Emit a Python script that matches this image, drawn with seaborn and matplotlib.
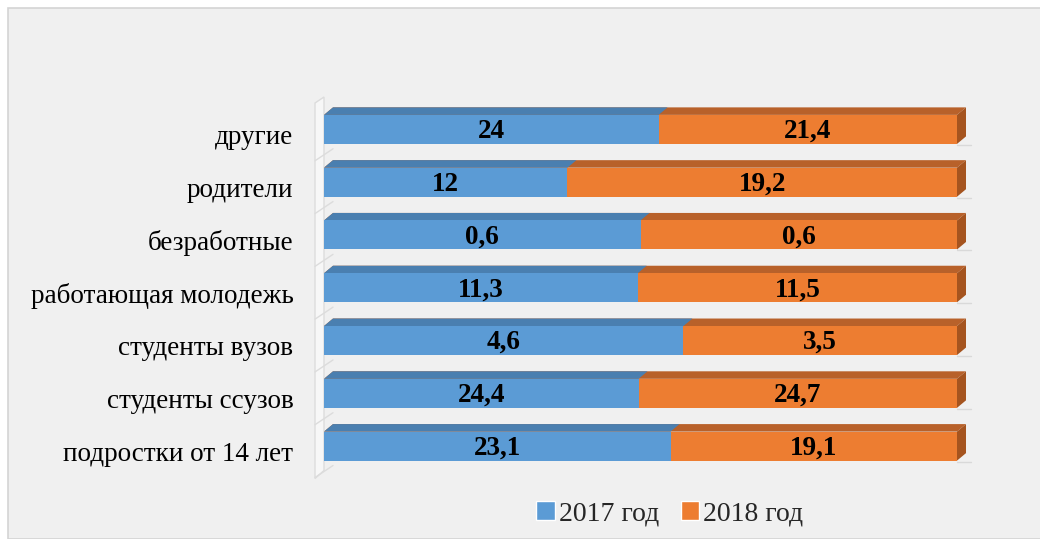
import numpy as np
import pandas as pd
import matplotlib
matplotlib.use("Agg")
import matplotlib.pyplot as plt
import matplotlib.transforms as mtransforms
from matplotlib.patches import Polygon, Rectangle
from matplotlib.lines import Line2D
import seaborn as sns

# ----------------------------
# Data
# ----------------------------
categories = ["другие", "родители", "безработные", "работающая молодежь",
              "студенты вузов", "студенты ссузов", "подростки от 14 лет"]
values_2017 = [24, 12, 0.6, 11.3, 4.6, 24.4, 23.1]
values_2018 = [21.4, 19.2, 0.6, 11.5, 3.5, 24.7, 19.1]
series_names = ["2017 год", "2018 год"]

BLUE = "#5B9BD5"
ORANGE = "#ED7D31"
BLUE_TOP = "#4A7FB0"
ORANGE_TOP = "#B8612A"
ORANGE_SIDE = "#A5541F"
BG = "#F0F0F0"

# 100% stacked shares
df = pd.DataFrame({"category": categories, "v17": values_2017, "v18": values_2018})
df["share17"] = df["v17"] / (df["v17"] + df["v18"])
df["total"] = 1.0

sns.set_theme(style="white")
plt.rcParams["font.family"] = ["Liberation Serif", "DejaVu Serif"]

W, H = 1040, 539
fig = plt.figure(figsize=(W / 100, H / 100), dpi=100)
fig.patch.set_facecolor("white")
# chart area frame
fig.add_artist(Rectangle((8 / W, 0), 1, 1 - 8 / H, transform=fig.transFigure,
                         facecolor=BG, edgecolor="#D4D4D4", lw=1.2, zorder=-10))

ax_left, ax_right = 324, 957
ax_top, ax_bot = 103, 472.5
ax = fig.add_axes([ax_left / W, 1 - ax_bot / H, (ax_right - ax_left) / W, (ax_bot - ax_top) / H])
ax.set_facecolor("none")

BAR_W = 0.55
sns.barplot(data=df, y="category", x="total", orient="h", color=ORANGE,
            width=BAR_W, saturation=1, linewidth=0, ax=ax, zorder=3)
sns.barplot(data=df, y="category", x="share17", orient="h", color=BLUE,
            width=BAR_W, saturation=1, linewidth=0, ax=ax, zorder=4)

ax.set_xlim(0, 1)
ax.set_ylim(len(categories) - 0.5, -0.5)

# pixel -> data conversions for the 3D depth
px_x = 1 / (ax_right - ax_left)
px_y = (len(categories)) / (ax_bot - ax_top)
dx, dy = 9 * px_x, 7.5 * px_y

n = len(categories)
orange_patches = ax.patches[:n]
blue_patches = ax.patches[n:2 * n]

for patches, top_col, z in [(orange_patches, ORANGE_TOP, 3), (blue_patches, BLUE_TOP, 4)]:
    for p in patches:
        x0, y0, w, h = p.get_x(), p.get_y(), p.get_width(), p.get_height()
        top = Polygon([(x0, y0), (x0 + w, y0), (x0 + w + dx, y0 - dy), (x0 + dx, y0 - dy)],
                      closed=True, facecolor=top_col, edgecolor="none", zorder=z - 0.5,
                      clip_on=False)
        ax.add_patch(top)
        if patches is orange_patches:
            side = Polygon([(x0 + w, y0), (x0 + w + dx, y0 - dy), (x0 + w + dx, y0 + h - dy),
                            (x0 + w, y0 + h)],
                           closed=True, facecolor=ORANGE_SIDE, edgecolor="none",
                           zorder=z, clip_on=False)
            ax.add_patch(side)

# back wall and floor lines
wall_x = -9 * px_x
ax.add_patch(Polygon([(wall_x, n - 0.5 + 6 * px_y), (0, n - 0.5 - 2 * px_y),
                      (0, -0.5 - 6 * px_y), (wall_x, -0.5)],
                     closed=True, facecolor="#F7F7F7", edgecolor="#DCDCDC", lw=1,
                     zorder=1, clip_on=False))
for i in range(1, n + 1):
    yb = i - 0.5
    ax.add_line(Line2D([wall_x, 9 * px_x], [yb + 5 * px_y, yb - 7 * px_y],
                       color="#DCDCDC", lw=1, zorder=1, clip_on=False))
for i in range(n):
    ax.add_line(Line2D([1, 1 + 14 * px_x], [i + BAR_W / 2 + 1 * px_y] * 2,
                       color="#D9D9D9", lw=1, zorder=1, clip_on=False))

# value labels
for i, row in df.iterrows():
    ax.text(row["share17"] / 2, i + 2 * px_y, f"{row['v17']:g}".replace(".", ","),
            ha="center", va="center", fontsize=19.5, fontweight="bold", color="black", zorder=6)
    ax.text(row["share17"] + (1 - row["share17"]) / 2, i + 2 * px_y,
            f"{row['v18']:g}".replace(".", ","),
            ha="center", va="center", fontsize=19.5, fontweight="bold", color="black", zorder=6)

ax.set_xlabel("")
ax.set_ylabel("")
ax.set_xticks([])
ax.tick_params(axis="y", length=0, pad=22, labelsize=19.5)
shift = mtransforms.ScaledTranslation(0, -5 / 100, fig.dpi_scale_trans)
for lab in ax.get_yticklabels():
    lab.set_color("black")
    lab.set_transform(lab.get_transform() + shift)
for s in ax.spines.values():
    s.set_visible(False)

handles = [Rectangle((0, 0), 1, 1, facecolor=BLUE), Rectangle((0, 0), 1, 1, facecolor=ORANGE)]
fig.legend(handles, series_names, loc="center", bbox_to_anchor=(670 / W, 1 - 514 / H),
           ncol=2, frameon=False, fontsize=20, handlelength=0.65, handleheight=0.65,
           handletextpad=0.15, columnspacing=0.8)

fig.savefig("out.png", dpi=100, facecolor=fig.get_facecolor())
